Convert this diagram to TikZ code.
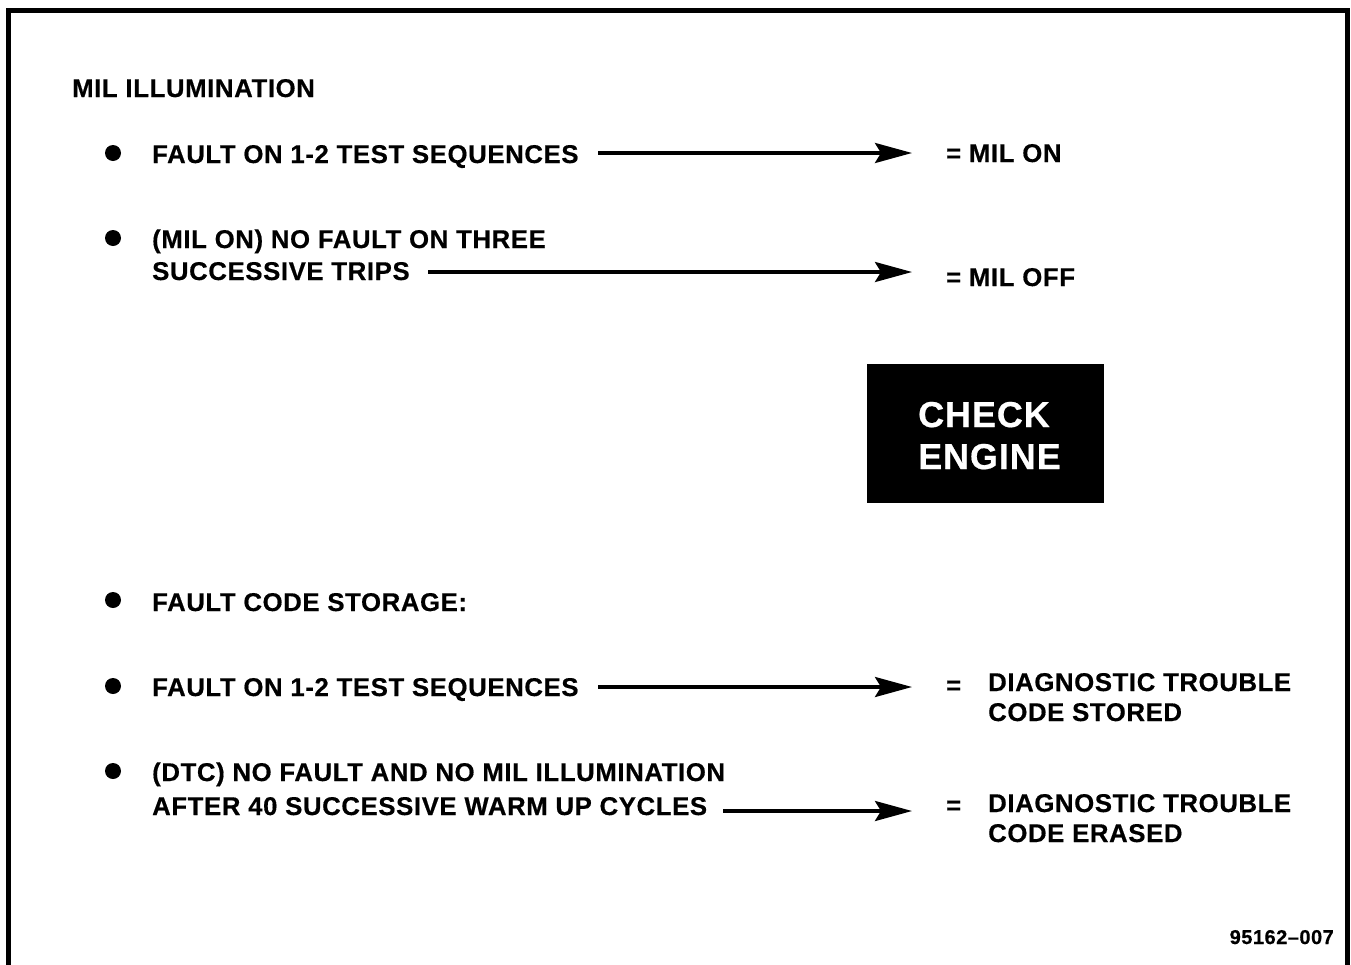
\documentclass[tikz,border=0pt]{standalone}
\usepackage{fontspec}
\setmainfont{Liberation Sans}[LetterSpace=2.5,BoldFeatures={FakeBold=0.5}]
\usetikzlibrary{arrows.meta}
\begin{document}
\begin{tikzpicture}[x=1pt,y=-1pt,
  txt/.style={anchor=base west,inner sep=0pt,font=\fontsize{25.7}{30}\selectfont\bfseries},
  big/.style={anchor=base west,inner sep=0pt,text=white,font=\fontsize{36}{42}\selectfont\bfseries},
  bul/.style={circle,fill=black,inner sep=0pt,minimum size=16pt},
  arr/.style={line width=3.5pt,-{Stealth[length=37pt,width=20pt,inset=6pt]}},
  frame/.style={line width=5pt},
]
\useasboundingbox (0,0) rectangle (1351,964);
% frame (open at the bottom)
\coordinate (fbl) at (8,966);
\coordinate (ftl) at (8,10);
\coordinate (ftr) at (1347.5,10);
\coordinate (fbr) at (1347.5,966);
\draw[frame,line join=miter] (fbl) -- (ftl) -- (ftr) -- (fbr);

% heading
\node[txt] (head) at (72,97) {MIL ILLUMINATION};

% bullet 1
\node[bul] (b1) at (113,153) {};
\node[txt] (t1) at (152,163) {FAULT ON 1-2 TEST SEQUENCES};
\coordinate (a1s) at (598,153);
\coordinate (a1e) at (912,153);
\draw[arr] (a1s) -- (a1e);
\node[txt] (r1) at (946,162) {= MIL ON};

% bullet 2
\node[bul] (b2) at (113,238) {};
\node[txt] (t2a) at (152,248) {(MIL ON) NO FAULT ON THREE};
\node[txt] (t2b) at (152,280) {SUCCESSIVE TRIPS};
\coordinate (a2s) at (428,272);
\coordinate (a2e) at (912,272);
\draw[arr] (a2s) -- (a2e);
\node[txt] (r2) at (946,286) {= MIL OFF};

% check engine lamp
\node[fill=black,inner sep=0pt,minimum width=237pt,minimum height=139pt,anchor=north west] (lamp) at (867,364) {};
\node[big] (ce1) at (918,427) {CHECK};
\node[big] (ce2) at (918,469) {ENGINE};

% bullet 3
\node[bul] (b3) at (113,600) {};
\node[txt] (t3) at (152,611) {FAULT CODE STORAGE:};

% bullet 4
\node[bul] (b4) at (113,686) {};
\node[txt] (t4) at (152,696) {FAULT ON 1-2 TEST SEQUENCES};
\coordinate (a4s) at (598,687);
\coordinate (a4e) at (912,687);
\draw[arr] (a4s) -- (a4e);
\node[txt] (e4) at (946,694) {=};
\node[txt] (r4a) at (988,691) {DIAGNOSTIC TROUBLE};
\node[txt] (r4b) at (988,721) {CODE STORED};

% bullet 5
\node[bul] (b5) at (113,771) {};
\node[txt] (t5a) at (152,781) {(DTC) NO FAULT AND NO MIL ILLUMINATION};
\node[txt] (t5b) at (152,815) {AFTER 40 SUCCESSIVE WARM UP CYCLES};
\coordinate (a5s) at (723,811);
\coordinate (a5e) at (912,811);
\draw[arr] (a5s) -- (a5e);
\node[txt] (e5) at (946,814) {=};
\node[txt] (r5a) at (988,812) {DIAGNOSTIC TROUBLE};
\node[txt] (r5b) at (988,842) {CODE ERASED};

% figure number
\node[anchor=base east,inner sep=0pt,font=\fontsize{20}{24}\selectfont\bfseries] (fig) at (1334,944) {95162--007};
\end{tikzpicture}
\end{document}
